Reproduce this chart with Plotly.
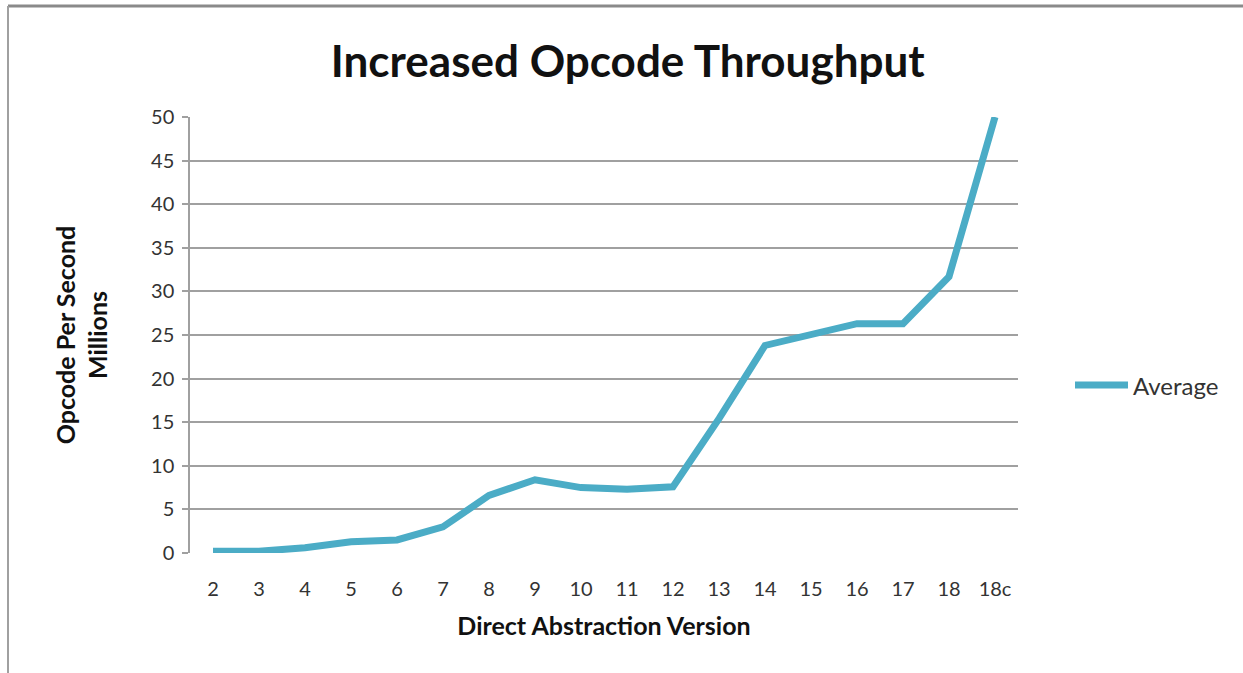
import plotly.graph_objects as go

# Direct Abstraction versions and their average throughput (millions of opcodes/s)
versions = ["2", "3", "4", "5", "6", "7", "8", "9", "10", "11", "12",
            "13", "14", "15", "16", "17", "18", "18c"]
average = [0.2, 0.2, 0.6, 1.3, 1.5, 3.0, 6.6, 8.4, 7.5, 7.3, 7.6,
           15.4, 23.8, 25.0, 26.3, 26.3, 31.7, 50.0]
y_ticks = [0, 5, 10, 15, 20, 25, 30, 35, 40, 45, 50]
series_name = "Average"

LINE = "#4bacc6"
GRID = "#a0a0a0"
FONT = "Lato, 'Open Sans', sans-serif"

# plot-area geometry in pixels, used to place legend and frame in paper units
L, R, T, B = 190, 1018, 117, 553
W, H = R - L, B - T


def px_x(x):
    return (x - L) / W


def px_y(y):
    return (B - y) / H


fig = go.Figure()
fig.add_trace(go.Scatter(
    x=versions, y=average, mode="lines", name=series_name,
    line=dict(color=LINE, width=7), showlegend=False,
))

fig.update_layout(
    width=1243, height=673,
    paper_bgcolor="white", plot_bgcolor="white",
    margin=dict(l=L, r=1243 - R, t=T, b=673 - B),
    font=dict(family=FONT, color="#333333", size=20),
    title=dict(text="<b>Increased Opcode Throughput</b>",
               font=dict(family=FONT, size=44, color="#111111"),
               x=0.505, xanchor="center", y=0.908, yanchor="middle"),
    xaxis=dict(
        type="category", categoryorder="array", categoryarray=versions,
        showgrid=False, showline=False, ticks="", ticklabelstandoff=22,
        tickfont=dict(size=20, color="#333333"),
        title=dict(text="<b>Direct Abstraction Version</b>",
                   font=dict(size=25, color="#111111"), standoff=18),
        range=[-0.5, len(versions) - 0.5],
    ),
    yaxis=dict(
        range=[0, 50], tickvals=y_ticks, showgrid=True, gridcolor=GRID,
        gridwidth=1.5, showline=True, linecolor=GRID, linewidth=1.5,
        ticks="outside", ticklen=6, tickcolor=GRID, tickwidth=1.5,
        zeroline=False, tickfont=dict(size=20, color="#333333"),
        ticklabelstandoff=4,
        title=dict(text="<b>Opcode Per Second<br>Millions</b>",
                   font=dict(size=25, color="#111111"), standoff=36),
    ),
    showlegend=False,
)

# Legend: line sample plus series label to the right of the plot
fig.add_shape(type="line", xref="paper", yref="paper",
              x0=px_x(1075), x1=px_x(1128), y0=px_y(385), y1=px_y(385),
              line=dict(color=LINE, width=7))
fig.add_annotation(text=series_name, xref="paper", yref="paper",
                   x=px_x(1131), y=px_y(385), xanchor="left", yanchor="middle",
                   showarrow=False, font=dict(size=24, color="#333333"))

# Frame lines along the top and left edges of the chart area
fig.add_shape(type="line", xref="paper", yref="paper",
              x0=px_x(8), x1=px_x(1243), y0=px_y(6), y1=px_y(6),
              line=dict(color="#8a8a8a", width=3))
fig.add_shape(type="line", xref="paper", yref="paper",
              x0=px_x(8), x1=px_x(8), y0=px_y(673), y1=px_y(6),
              line=dict(color="#a0a0a0", width=2))

fig.write_html("out.html")
